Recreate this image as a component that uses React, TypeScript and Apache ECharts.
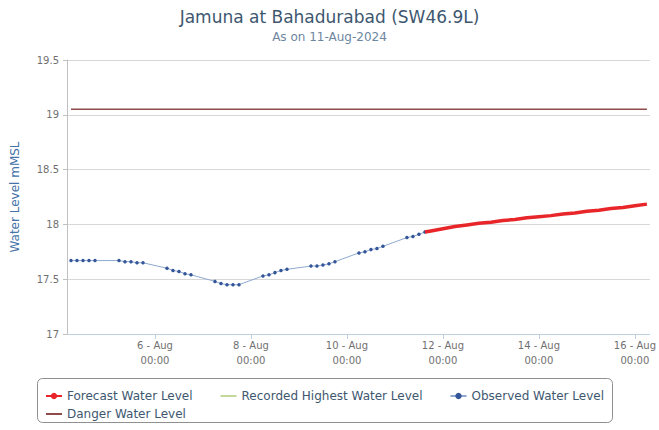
import React, { useEffect, useRef } from "react";
import * as echarts from "echarts";

const observedTimes = [
  "2024-08-04 06:00", "2024-08-04 09:00", "2024-08-04 12:00", "2024-08-04 15:00", "2024-08-04 18:00",
  "2024-08-05 06:00", "2024-08-05 09:00", "2024-08-05 12:00", "2024-08-05 15:00", "2024-08-05 18:00",
  "2024-08-06 06:00", "2024-08-06 09:00", "2024-08-06 12:00", "2024-08-06 15:00", "2024-08-06 18:00",
  "2024-08-07 06:00", "2024-08-07 09:00", "2024-08-07 12:00", "2024-08-07 15:00", "2024-08-07 18:00",
  "2024-08-08 06:00", "2024-08-08 09:00", "2024-08-08 12:00", "2024-08-08 15:00", "2024-08-08 18:00",
  "2024-08-09 06:00", "2024-08-09 09:00", "2024-08-09 12:00", "2024-08-09 15:00", "2024-08-09 18:00",
  "2024-08-10 06:00", "2024-08-10 09:00", "2024-08-10 12:00", "2024-08-10 15:00", "2024-08-10 18:00",
  "2024-08-11 06:00", "2024-08-11 09:00", "2024-08-11 12:00", "2024-08-11 15:00",
];
const observedValues = [
  17.67, 17.67, 17.67, 17.67, 17.67,
  17.67, 17.66, 17.66, 17.65, 17.65,
  17.60, 17.58, 17.57, 17.55, 17.54,
  17.48, 17.46, 17.45, 17.45, 17.45,
  17.53, 17.54, 17.56, 17.58, 17.59,
  17.62, 17.62, 17.63, 17.64, 17.66,
  17.74, 17.75, 17.77, 17.78, 17.80,
  17.88, 17.89, 17.91, 17.93,
];

const forecastTimes = [
  "2024-08-11 15:00", "2024-08-11 18:00",
  "2024-08-12 00:00", "2024-08-12 06:00", "2024-08-12 12:00", "2024-08-12 18:00",
  "2024-08-13 00:00", "2024-08-13 06:00", "2024-08-13 12:00", "2024-08-13 18:00",
  "2024-08-14 00:00", "2024-08-14 06:00", "2024-08-14 12:00", "2024-08-14 18:00",
  "2024-08-15 00:00", "2024-08-15 06:00", "2024-08-15 12:00", "2024-08-15 18:00",
  "2024-08-16 00:00", "2024-08-16 06:00",
];
const forecastValues = [
  17.93, 17.94,
  17.96, 17.98, 17.995, 18.01,
  18.02, 18.035, 18.045, 18.06,
  18.07, 18.08, 18.095, 18.105,
  18.12, 18.13, 18.145, 18.155,
  18.17, 18.185,
];

const levelTimes = ["2024-08-04 06:00", "2024-08-16 06:00"];
const dangerLevel = [19.05, 19.05];
const recordedHighest = [20.62, 20.62];

const xTickTimes = [
  "2024-08-06 00:00", "2024-08-08 00:00", "2024-08-10 00:00",
  "2024-08-12 00:00", "2024-08-14 00:00", "2024-08-16 00:00",
];
const xAxisStart = "2024-08-04 04:00";
const xAxisEnd = "2024-08-16 07:30";
const yMin = 17;
const yMax = 19.5;
const yStep = 0.5;

const legendRow1 = ["Forecast Water Level", "Recorded Highest Water Level", "Observed Water Level"];
const legendRow2 = ["Danger Water Level"];

const monthNames = ["Jan", "Feb", "Mar", "Apr", "May", "Jun", "Jul", "Aug", "Sep", "Oct", "Nov", "Dec"];

function ts(s: string): number {
  const [d, t] = s.split(" ");
  const [Y, M, D] = d.split("-").map(Number);
  const [h, m] = t.split(":").map(Number);
  return Date.UTC(Y, M - 1, D, h, m);
}

function pairs(times: string[], values: number[]) {
  return times.map((t, i) => [ts(t), values[i]]);
}

const FONT = "DejaVu Sans";

const legendCommon = {
  padding: 0,
  itemGap: 27,
  itemWidth: 16,
  itemHeight: 8,
  textStyle: { color: "#3E576F", fontSize: 12, fontFamily: FONT },
};

export default function App() {
  const ref = useRef<HTMLDivElement>(null);
  useEffect(() => {
    if (!ref.current) return;
    const chart = echarts.init(ref.current, null, { renderer: "svg" });
    const tickValues = xTickTimes.map(ts);
    chart.setOption({
      animation: false,
      backgroundColor: "#ffffff",
      textStyle: { fontFamily: FONT },
      title: {
        text: "Jamuna at Bahadurabad (SW46.9L)",
        subtext: "As on 11-Aug-2024",
        left: "center",
        top: 3,
        itemGap: 6,
        textStyle: { fontFamily: FONT, fontSize: 17, fontWeight: "normal", color: "#3E576F" },
        subtextStyle: { fontFamily: FONT, fontSize: 12, color: "#6D869F" },
      },
      grid: { left: 67, right: 9, top: 60, bottom: 96 },
      graphic: [
        {
          type: "rect",
          shape: { x: 37.5, y: 378.5, width: 575, height: 44, r: 5 },
          style: { fill: "none", stroke: "#909090", lineWidth: 1 },
          silent: true,
        },
      ],
      xAxis: {
        type: "value",
        min: ts(xAxisStart),
        max: ts(xAxisEnd),
        axisLine: { show: true, lineStyle: { color: "#C0D0E0", width: 1 } },
        axisTick: { show: true, length: 5, lineStyle: { color: "#C0D0E0" }, customValues: tickValues },
        splitLine: { show: false },
        axisLabel: {
          customValues: tickValues,
          color: "#707070",
          fontSize: 10,
          fontFamily: FONT,
          lineHeight: 15,
          margin: 4,
          formatter: (v: number) => {
            const d = new Date(v);
            const hh = String(d.getUTCHours()).padStart(2, "0");
            const mm = String(d.getUTCMinutes()).padStart(2, "0");
            return `${d.getUTCDate()} - ${monthNames[d.getUTCMonth()]}\n${hh}:${mm}`;
          },
        },
      },
      yAxis: {
        type: "value",
        min: yMin,
        max: yMax,
        interval: yStep,
        name: "Water Level mMSL",
        nameLocation: "middle",
        nameGap: 46,
        nameRotate: 90,
        nameTextStyle: { color: "#4572A7", fontSize: 12, fontFamily: FONT },
        axisLine: { show: true, lineStyle: { color: "#C0C0C0" } },
        axisTick: { show: true, length: 4, lineStyle: { color: "#C0C0C0" } },
        splitLine: { show: true, lineStyle: { color: "#D8D8D8", width: 1 } },
        axisLabel: { color: "#707070", fontSize: 10, fontFamily: FONT, margin: 8 },
      },
      legend: [
        { ...legendCommon, left: 45, top: 390, data: legendRow1 },
        { ...legendCommon, left: 45, top: 408, data: legendRow2 },
      ],
      series: [
        {
          name: "Forecast Water Level",
          type: "line",
          data: pairs(forecastTimes, forecastValues),
          showSymbol: false,
          symbol: "circle",
          symbolSize: 4,
          lineStyle: { color: "#E8262A", width: 3.5 },
          itemStyle: { color: "#E8262A" },
          z: 4,
        },
        {
          name: "Recorded Highest Water Level",
          type: "line",
          data: pairs(levelTimes, recordedHighest),
          symbol: "line",
          showSymbol: false,
          lineStyle: { color: "#C5D89A", width: 2 },
          itemStyle: { color: "#C5D89A" },
        },
        {
          name: "Observed Water Level",
          type: "line",
          data: pairs(observedTimes, observedValues),
          symbol: "circle",
          symbolSize: 3.5,
          showSymbol: true,
          lineStyle: { color: "#8FA9CF", width: 1 },
          itemStyle: { color: "#35579A" },
          z: 3,
        },
        {
          name: "Danger Water Level",
          type: "line",
          data: pairs(levelTimes, dangerLevel),
          symbol: "line",
          showSymbol: false,
          lineStyle: { color: "#8F4A4A", width: 1.5 },
          itemStyle: { color: "#8F4A4A" },
        },
      ],
    });
    return () => chart.dispose();
  }, []);
  return (
    <div
      ref={ref}
      style={{ position: "fixed", left: 0, top: 0, width: 659, height: 430, background: "#fff" }}
    />
  );
}
